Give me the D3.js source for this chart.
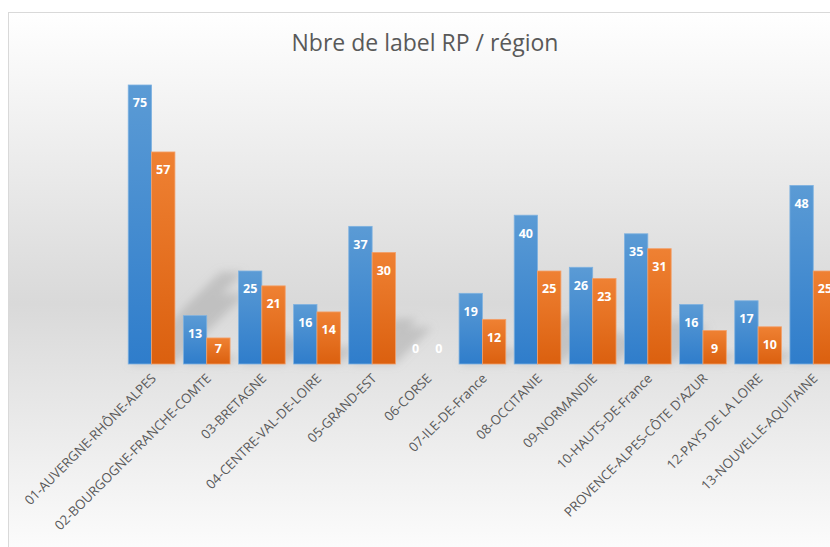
<!DOCTYPE html>
<html>
<head>
<meta charset="utf-8">
<script src="https://cdn.jsdelivr.net/npm/d3@7"></script>
<style>
  html, body { margin: 0; padding: 0; background: #fff; }
  svg { display: block; font-family: "Open Sans", "Liberation Sans", sans-serif; }
</style>
</head>
<body>
<svg id="chart" width="830" height="547"></svg>
<script>
// data
const categories = [
  "01-AUVERGNE-RHÔNE-ALPES", "02-BOURGOGNE-FRANCHE-COMTE", "03-BRETAGNE",
  "04-CENTRE-VAL-DE-LOIRE", "05-GRAND-EST", "06-CORSE", "07-ILE-DE-France",
  "08-OCCITANIE", "09-NORMANDIE", "10-HAUTS-DE-France",
  "PROVENCE-ALPES-CÔTE D'AZUR", "12-PAYS DE LA LOIRE", "13-NOUVELLE-AQUITAINE"
];
const serieBleue = [75, 13, 25, 16, 37, 0, 19, 40, 26, 35, 16, 17, 48];
const serieOrange = [57, 7, 21, 14, 30, 0, 12, 25, 23, 31, 9, 10, 25];
const title = "Nbre de label RP / région";

const svg = d3.select('#chart');
const baseY = 364;

const defs = svg.append('defs');

// chart area background: white -> gray -> white
const bg = defs.append('linearGradient').attr('id', 'bg')
  .attr('x1', 0).attr('y1', 0).attr('x2', 0).attr('y2', 1);
bg.append('stop').attr('offset', '0%').attr('stop-color', '#ffffff');
bg.append('stop').attr('offset', '52%').attr('stop-color', '#d9d9d9');
bg.append('stop').attr('offset', '100%').attr('stop-color', '#ffffff');

function barGrad(id, top, bottom) {
  const g = defs.append('linearGradient').attr('id', id)
    .attr('x1', 0).attr('y1', 0).attr('x2', 0).attr('y2', 1);
  g.append('stop').attr('offset', '0%').attr('stop-color', top);
  g.append('stop').attr('offset', '100%').attr('stop-color', bottom);
}
barGrad('gBleu', '#5b9bd5', '#2f7dcb');
barGrad('gOrange', '#ef8133', '#db600f');

defs.append('filter').attr('id', 'blur')
  .attr('x', '-50%').attr('y', '-50%').attr('width', '200%').attr('height', '200%')
  .append('feGaussianBlur').attr('stdDeviation', 4);

// frame (runs past the right edge, the reference is cropped)
svg.append('rect')
  .attr('x', 8.5).attr('y', 12.5)
  .attr('width', 900).attr('height', 560)
  .attr('fill', 'url(#bg)')
  .attr('stroke', '#d9d9d9');

svg.append('text')
  .attr('x', 425).attr('y', 51)
  .attr('text-anchor', 'middle')
  .attr('font-size', 23)
  .attr('fill', '#595959')
  .text(title);

const x = d3.scaleBand()
  .domain(categories)
  .range([124, 124 + 13 * 55.14])
  .paddingInner(0.153)
  .paddingOuter(0.0765);

const xs = d3.scaleBand()
  .domain(['bleu', 'orange'])
  .range([0, x.bandwidth()]);

const y = d3.scaleLinear()
  .domain([0, 80])
  .range([baseY, baseY - 80 * 3.72]);

const series = [
  { key: 'bleu', values: serieBleue, fill: 'url(#gBleu)', edge: '#7fb2e0' },
  { key: 'orange', values: serieOrange, fill: 'url(#gOrange)', edge: '#f3a06a' }
];

const rows = [];
series.forEach(s => {
  s.values.forEach((v, i) => {
    rows.push({ cat: categories[i], v: v, s: s });
  });
});

// perspective shadows behind the bars
const k = 0.33;
svg.append('g')
  .attr('filter', 'url(#blur)')
  .selectAll('path')
  .data(rows.filter(d => d.v > 0))
  .enter()
  .append('path')
  .attr('fill', '#9a9a9a')
  .attr('opacity', 0.4)
  .attr('d', d => {
    const x0 = x(d.cat) + xs(d.s.key);
    const x1 = x0 + xs.bandwidth();
    const h = y(0) - y(d.v);
    return `M${x0},${baseY} L${x1},${baseY} L${x1 + h * k},${baseY - h * k} L${x0 + h * k},${baseY - h * k} Z`;
  });

// bars
svg.append('g')
  .selectAll('rect')
  .data(rows.filter(d => d.v > 0))
  .enter()
  .append('rect')
  .attr('x', d => x(d.cat) + xs(d.s.key))
  .attr('y', d => y(d.v))
  .attr('width', xs.bandwidth())
  .attr('height', d => y(0) - y(d.v))
  .attr('fill', d => d.s.fill)
  .attr('stroke', d => d.s.edge)
  .attr('stroke-width', 0.8);

// value labels, inside end
svg.append('g')
  .selectAll('text')
  .data(rows)
  .enter()
  .append('text')
  .attr('x', d => x(d.cat) + xs(d.s.key) + xs.bandwidth() / 2)
  .attr('y', d => Math.min(y(d.v) + 18, y(0) - 15))
  .attr('dy', '0.35em')
  .attr('text-anchor', 'middle')
  .attr('font-size', 12.5)
  .attr('font-weight', 'bold')
  .attr('fill', '#ffffff')
  .text(d => d.v);

// category labels, rotated
svg.append('g')
  .selectAll('text')
  .data(categories)
  .enter()
  .append('text')
  .attr('transform', d => `translate(${x(d) + x.bandwidth() / 2 + 2},${baseY + 12}) rotate(-45)`)
  .attr('text-anchor', 'end')
  .attr('dy', '0.35em')
  .attr('font-size', 13.2)
  .attr('fill', '#595959')
  .text(d => d);
</script>
</body>
</html>
